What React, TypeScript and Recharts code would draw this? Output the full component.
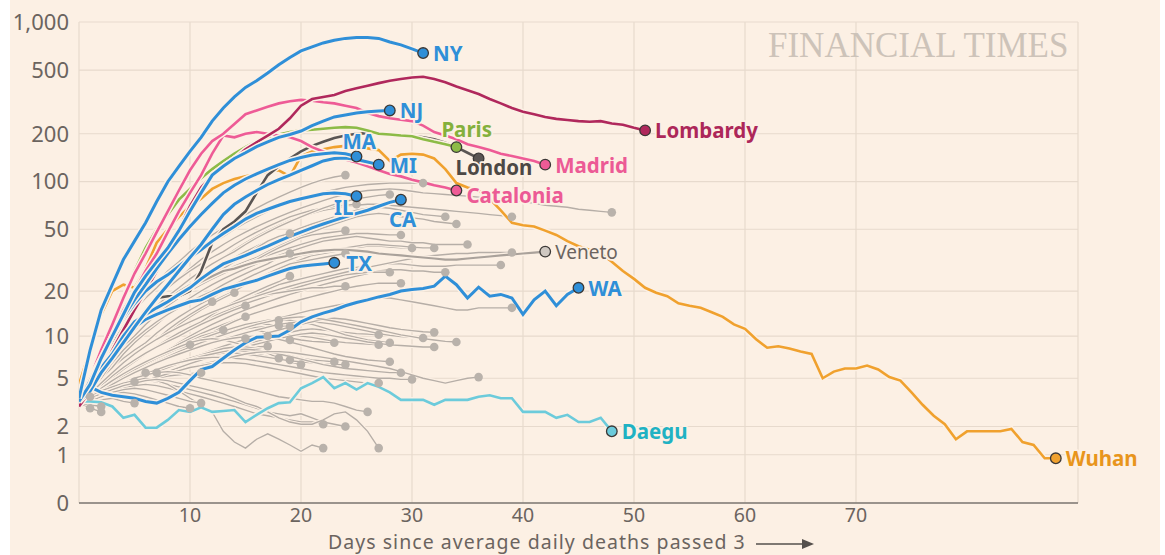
import React from 'react';
import { LineChart, Line, XAxis, YAxis, CartesianGrid } from 'recharts';

const BG = '#fcf0e4';
const GRID = '#e7dacd';
const AXIS_TXT = '#6b645f';
const FONT = '"Noto Sans", sans-serif';

const xTicks = [10, 20, 30, 40, 50, 60, 70];
const yTicks = [0, 1, 2, 5, 10, 20, 50, 100, 200, 500, 1000];

const ny = [3.5, 8, 15, 22, 32, 42, 55, 75, 100, 125, 155, 190, 240, 290, 340, 390, 430, 480, 540, 600, 660, 700, 740, 770, 790, 800, 800, 790, 750, 720, 680, 640];
const nj = [3.3, 4.5, 7, 10, 14, 19.6, 25, 31, 38, 49, 65, 85, 110, 125, 140, 152, 166, 178, 190, 198, 208, 225, 240, 255, 262, 270, 275, 278, 280];
const ma = [3.3, 4.8, 7, 10, 13.5, 17.5, 22, 28, 35, 43, 52, 62, 73, 85, 95, 104, 112, 120, 128, 136, 142, 147, 150, 152, 150, 144];
const mi = [3.3, 4, 5.5, 7, 9, 11.5, 14.5, 18, 22, 27, 33, 40, 50, 62, 72, 80, 88, 96, 103, 110, 118, 126, 135, 140, 141, 138, 133, 128];
const il = [3.3, 5, 7, 10, 13, 16.5, 20, 23, 25.5, 29, 33, 37, 42, 47, 52, 58, 63, 67, 71, 75, 78, 81, 84, 85, 84, 81];
const ca = [3.3, 4.5, 6, 7.5, 10, 12.5, 14, 15.5, 17, 19, 21, 24, 27, 30, 32, 34, 36.5, 39, 42, 45, 48, 51, 54, 57, 60, 63, 66, 70, 74, 77];
const tx = [3.3, 4.5, 6, 7.5, 9.5, 11.5, 13, 14, 15, 16, 17, 17.5, 19, 20.5, 21.5, 22.5, 23.5, 25, 26.5, 28, 29, 29.5, 30, 30.5];
const wa = [3.3, 4.3, 3.9, 3.7, 3.6, 3.5, 3.3, 3.2, 3.5, 3.9, 4.8, 5.8, 6.1, 7.0, 8.0, 9.0, 9.8, 9.9, 10, 11, 12.5, 13.5, 14.3, 15, 16, 16.8, 17.5, 18.3, 19, 20, 20.5, 20.8, 21.5, 25, 22, 18, 21.2, 18.5, 19, 18, 14, 17.5, 20, 16, 19, 21];
const lombardy = [3, 4, 5.5, 8, 11, 15, 20, 27, 36, 50, 70, 92, 110, 125, 140, 160, 177, 195, 215, 250, 300, 330, 340, 350, 370, 385, 400, 415, 430, 440, 450, 455, 440, 420, 395, 375, 355, 330, 310, 290, 275, 265, 255, 248, 244, 240, 238, 240, 232, 228, 218, 210];
const madrid = [3.5, 5, 8, 12, 18, 26, 35, 48, 65, 88, 118, 150, 180, 200, 230, 265, 280, 295, 310, 320, 326, 322, 315, 310, 300, 290, 270, 258, 250, 245, 240, 225, 205, 195, 185, 172, 165, 158, 150, 145, 140, 135, 128];
const catalonia = [3, 4.5, 7, 10, 15, 20, 27, 35, 48, 65, 85, 110, 150, 195, 190, 200, 205, 200, 195, 190, 180, 165, 155, 145, 138, 132, 125, 118, 112, 108, 103, 99, 95, 92, 88];
const paris = [3.5, 5, 8, 12, 18, 27, 38, 50, 62, 77, 90, 105, 120, 135, 150, 165, 180, 190, 198, 205, 210, 212, 215, 218, 220, 218, 210, 200, 198, 195, 193, 185, 178, 172, 165];
const london = [3, 4, 5.5, 7, 9, 12, 15, 18, 18.5, 18.5, 20, 27, 41, 50, 56, 65, 85, 110, 125, 140, 155, 168, 178, 188, 195, 200, 202, 200, 198, 196, 194, 190, 185, 176, 165, 152, 140];
const wuhan = [4.5, 8, 14, 20, 22, 21, 28, 41, 50, 60, 70, 78, 90, 98, 104, 108, 112, 116, 118, 108, 145, 155, 160, 165, 168, 165, 162, 158, 135, 148, 150, 148, 140, 120, 98, 92, 88, 78, 66, 55, 53, 52, 49, 46, 42, 39, 37, 35, 31, 27, 24, 21, 19.5, 18.5, 16.6, 16, 15.5, 14.5, 13.5, 12, 11.2, 9.5, 8.3, 8.5, 8.2, 7.8, 7.5, 5.0, 5.6, 5.9, 5.9, 6.2, 5.8, 5.1, 4.8, 3.9, 3.1, 2.5, 2.1, 1.5, 1.8, 1.8, 1.8, 1.8, 1.9, 1.4, 1.3, 0.9, 0.9];
const daegu = [3.3, 3.3, 3.25, 3.0, 2.4, 2.55, 1.95, 1.95, 2.3, 2.8, 2.7, 2.95, 2.7, 2.75, 2.8, 2.2, 2.55, 2.9, 3.2, 3.25, 4.2, 4.6, 5.1, 4.2, 4.6, 4.1, 4.6, 4.3, 3.9, 3.4, 3.4, 3.4, 3.1, 3.4, 3.4, 3.4, 3.6, 3.7, 3.5, 3.5, 2.7, 2.7, 2.7, 2.4, 2.55, 2.2, 2.2, 2.4, 1.8];
const veneto = [3.2, 4.5, 6, 7.5, 9, 11, 13, 15, 17, 19, 21, 23, 25, 27, 28, 29.5, 31, 32, 33, 34, 35, 36, 36.5, 37, 37, 36.5, 36, 35, 34.5, 34, 33.5, 33, 32.5, 32, 32, 32.5, 33, 33.5, 34, 34.5, 35, 35.5, 36];

const grayRegions: number[][] = [
  [3, 4.5, 6, 8, 10, 12.5, 15, 18, 21, 24, 28, 32, 36, 40, 44, 48, 52, 56, 60, 64, 68, 72, 76, 80, 83, 86, 88, 89, 90, 89, 87, 85, 84, 83, 82, 81, 80, 78, 77, 76, 75, 73, 71, 70, 69, 67, 66, 65, 64],
  [3, 4, 5.5, 7, 9, 11, 13, 15.5, 18, 21, 24, 27, 30, 33, 37, 41, 45, 49, 53, 57, 60, 63, 66, 68, 70, 71, 72, 72, 71, 70, 69, 68, 67, 66, 65, 64, 63, 62, 61, 60],
  [3, 4, 5, 6.5, 8, 10, 12, 14, 16, 18, 21, 24, 27, 30, 33, 36, 39, 42, 45, 48, 51, 54, 57, 60, 63, 66, 68, 69, 68, 66, 64, 62, 61, 60],
  [3.2, 4.5, 6, 7.5, 9, 11, 13, 15, 17, 19, 21, 23, 25, 27, 29, 31, 33, 36, 39, 42, 45, 48, 51, 54, 57, 60, 62, 63, 62, 60, 59, 58, 56, 55, 54],
  [3, 4, 5, 6.5, 8, 10, 12, 14, 16, 18, 20, 22, 24, 26, 28, 30, 32, 34, 36, 38, 40, 42, 44, 45, 46, 47, 47, 46.5, 46, 46],
  [3, 3.8, 4.6, 5.5, 6.5, 7.5, 8.5, 9.5, 11, 12.5, 14, 15.5, 17, 18.5, 20, 22, 24, 26, 28, 30, 32, 34, 35, 36, 37, 38, 39, 39, 38.5, 38, 38],
  [3.2, 4, 5, 6, 7, 8, 9, 10.5, 12, 13.5, 15, 16.5, 18, 20, 22, 24, 26, 28, 30, 32, 34, 35, 36, 37, 38, 39, 40, 40, 39.5, 39, 38.5, 38, 38],
  [3, 4, 5, 6, 7.5, 9, 10.5, 12, 14, 16, 18, 20, 22, 24, 26, 28, 30, 32, 34, 36, 38, 40, 42, 43, 44, 45, 44, 43, 42, 42, 41, 41, 40, 40, 40, 40],
  [3, 3.6, 4.2, 5, 5.8, 6.6, 7.5, 8.5, 9.5, 10.5, 11.5, 12.5, 13.5, 14.5, 16, 17.5, 19, 20.5, 22, 23, 24, 25, 26, 27, 28, 28.5, 29, 29.5, 30, 30, 29.5, 29, 29, 29, 29.5, 29.5, 29.5, 29.5, 29.5],
  [3, 3.5, 4, 4.5, 5, 5.5, 6, 7, 8, 9, 10, 11, 12, 13, 14, 15, 16, 17, 18, 19, 20, 21, 22, 23, 24, 25, 26, 27, 27.5, 27.5, 27, 27, 26.5, 26.5],
  [3, 3.6, 4.3, 5, 5.8, 6.6, 7.5, 8.5, 9.5, 10.5, 11.5, 12.5, 13.5, 14.5, 15.5, 16.5, 17.5, 18.5, 19.5, 20.5, 21.5, 22.5, 23.5, 24.5, 25.5, 26, 26.5, 26.5, 26.5],
  [3, 3.5, 4, 4.6, 5.2, 5.8, 6.5, 7.2, 8, 8.8, 9.6, 10.4, 11.2, 12, 12.8, 13.6, 14.4, 15.2, 16, 16.8, 17.6, 18.4, 19.2, 20, 20.8, 21.5, 22, 22.5, 22.5, 22.5],
  [3, 3.8, 4.6, 5.5, 6.5, 7.5, 8.5, 9.5, 10.5, 11.5, 12.5, 13.5, 14.5, 15.5, 16.5, 17.5, 18.5, 19, 19.5, 20, 20.5, 21, 21, 21.5, 21.5],
  [3, 3.5, 4, 4.5, 5, 5.5, 6, 6.6, 7.2, 7.8, 8.4, 9, 9.6, 10.2, 10.8, 11.4, 12, 12.6, 13.2, 13.8, 14.4, 15, 15.5, 16, 16.5, 17, 17.5, 18, 18, 17.5, 17, 16.5, 16, 15.5, 15, 15, 15.5, 15.5, 15.5, 15.5],
  [3, 4.2, 5.5, 7, 8.5, 10, 12, 14, 16, 18, 20, 22, 24, 26, 28, 30, 32, 35, 38, 41, 44, 46, 47, 48, 49],
  [3, 4.5, 6, 8, 10, 12, 14, 16, 18, 20, 22, 24, 26, 28, 31, 34, 38, 42, 45, 47],
  [3, 4, 5, 6.5, 8, 9.5, 11, 12.5, 14, 15.5, 17, 18.5, 20, 22, 24, 26, 28, 30, 33, 35],
  [3, 3.8, 4.6, 5.5, 6.5, 7.5, 8.5, 9.5, 11, 12.5, 14, 15.5, 17, 18.5, 20, 22, 24, 26, 28, 30, 31, 32, 33, 34, 35],
  [3, 4.5, 6, 8, 10, 12.5, 15, 18, 21, 24, 27, 30, 33, 36, 40, 44, 48, 52, 56, 60, 63, 66, 68, 70, 71, 72],
  [3, 4.5, 6.5, 9, 12, 15, 18, 21, 25, 29, 33, 37, 41, 45, 50, 55, 60, 65, 70, 74, 78, 82, 86, 89, 92, 94, 96, 97, 98, 98, 98, 98],
  [3, 4.5, 6.5, 9, 12, 15, 19, 23, 27, 31, 36, 41, 46, 51, 56, 62, 68, 74, 80, 86, 92, 98, 103, 107, 110],
  [3, 4.2, 5.5, 7, 9, 11, 13.5, 16, 18.5, 21, 24, 27, 30, 33, 36, 40, 44, 48, 52, 56, 60, 64, 68, 72, 75, 78, 80, 82, 83],
  [3, 3.6, 4.3, 5, 5.8, 6.6, 7.5, 8.5, 9.5, 10.5, 11.5, 12.5, 14, 15.5, 17, 18.5, 20, 21.5, 23, 25],
  [3, 3.8, 4.6, 5.5, 6.5, 7.5, 8.5, 9.5, 10.5, 12, 13.5, 15, 16.5, 18, 19.5],
  [3, 3.8, 4.6, 5.5, 6.5, 7.5, 8.5, 9.5, 11, 12.5, 14, 15.5, 17],
  [3, 3.7, 4.4, 5.2, 6, 6.8, 7.6, 8.4, 9.2, 10, 11, 12, 13, 14, 15, 16],
  [3, 3.5, 4, 4.6, 5.2, 5.8, 6.4, 7, 7.6, 8.2, 9, 9.8, 10.6, 11.6, 12.6, 13.5],
  [3, 3.4, 3.9, 4.4, 5, 5.6, 6.2, 6.8, 7.4, 8, 8.6, 9.2, 9.8, 10.4, 11, 11.6, 12.2, 12.6, 12.8],
  [3, 3.5, 4, 4.5, 5, 5.5, 6, 6.6, 7.2, 7.8, 8.4, 9, 9.6, 10.2, 10.8, 11.2, 11.5, 11.7, 11.8],
  [3, 3.6, 4.2, 4.8, 5.4, 6, 6.6, 7.2, 7.8, 8.4, 9.2, 10, 10.5, 11],
  [3, 3.4, 3.8, 4.2, 4.6, 5, 5.4, 5.8, 6.2, 6.6, 7, 7.5, 8, 8.5, 9, 9.6],
  [3, 3.5, 4, 4.5, 5, 5.5, 6, 6.5, 7, 7.5, 8, 8.5, 9, 9.3, 9.6, 9.8, 10, 10],
  [3, 3.4, 3.8, 4.2, 4.6, 5, 5.4, 5.8, 6.2, 6.6, 7, 7.3, 7.6, 7.9, 8.1, 8.3, 8.4, 8.5],
  [3, 3.5, 4, 4.5, 5, 5.6, 6.2, 6.8, 7.4, 8, 8.6, 9.2, 9.8, 10.4, 11, 11.6, 12, 12, 11.8, 11.6],
  [3, 3.4, 3.8, 4.2, 4.6, 5, 5.4, 5.8, 6.2, 6.6, 7, 7.4, 7.8, 8.2, 8.6, 9, 9.4, 9.6, 9.5, 9.4],
  [3, 3.5, 4, 4.5, 5, 5.5, 6, 6.5, 7, 7.5, 8, 8.5, 9, 9.5, 10, 10.5, 11, 10.5, 10, 9.7, 9.4, 9.2, 9.1, 9],
  [3, 3.4, 3.8, 4.2, 4.6, 5, 5.4, 5.8, 6.2, 6.6, 7, 7.4, 7.8, 8.2, 8.6, 9, 9.4, 9.8, 10.2, 10.6, 11, 11.2, 11, 10.8, 10.6, 10.4, 10.3, 10.2],
  [3, 3.3, 3.6, 4, 4.4, 4.8, 5.2, 5.6, 6, 6.4, 6.8, 7.2, 7.6, 8, 8.4, 8.8, 9.2, 9.6, 10, 10.2, 10, 9.8, 9.5, 9.2, 9, 8.9, 8.8, 8.7],
  [3, 3.6, 4.2, 4.8, 5.4, 6, 6.6, 7.2, 7.8, 8.4, 9, 9.6, 10.2, 10.8, 11.4, 12, 12.4, 12.8, 13, 12.8, 12.4, 12, 11.4, 10.8, 10.2, 9.8, 9.4, 9.2, 9],
  [3, 3.5, 4, 4.5, 5, 5.5, 6, 6.5, 7, 7.5, 8, 8.5, 9, 9.5, 10, 10.5, 11, 11.5, 12, 12.3, 12.5, 12.5, 12.3, 12, 11.6, 11.2, 10.8, 10.4, 10.1, 9.9, 9.8, 9.7],
  [3, 3.3, 3.6, 4, 4.4, 4.8, 5.2, 5.6, 6, 6.5, 7, 7.5, 8, 8.5, 9, 9.5, 10, 10.5, 11, 11.5, 12, 12.5, 13, 13.2, 13, 12.6, 12.2, 11.8, 11.4, 11.1, 10.9, 10.7, 10.6],
  [3, 3.3, 3.6, 3.9, 4.2, 4.5, 4.8, 5.2, 5.6, 6, 6.4, 6.8, 7.2, 7.6, 8, 8.4, 8.8, 9.2, 9.6, 10, 10.3, 10.5, 10.3, 10, 9.7, 9.4, 9.1, 8.9, 8.7, 8.6, 8.5, 8.4, 8.4],
  [3, 3.5, 4, 4.5, 5, 5.5, 6, 6.6, 7.2, 7.8, 8.4, 9, 9.6, 10.2, 10.8, 11.4, 12, 12.5, 13, 13.3, 13.5, 13.3, 13, 12.6, 12.2, 11.8, 11.4, 11, 10.6, 10.2, 9.9, 9.6, 9.4, 9.2, 9.1],
  [3, 3.5, 4, 4.6, 5.2, 5.8, 6.4, 7, 7.6, 8.2, 8.7],
  [3, 3.4, 3.8, 4.2, 4.6, 5, 5.4, 5.8, 6.2, 6.6, 7, 7.4, 7.6, 7.6, 7.5, 7.4, 7.2, 7.1, 7],
  [3, 3.3, 3.6, 4, 4.4, 4.8, 5.2, 5.6, 6, 6.4, 6.8, 7.2, 7.6, 8, 8, 7.8, 7.5, 7.2, 7, 6.8],
  [3, 3.6, 4.2, 4.8, 5.4, 6, 6.6, 7.2, 7.8, 8.4, 9, 9.4, 9.6, 9.4, 9, 8.6, 8.2, 7.6, 7, 6.6, 6.3],
  [3, 3.4, 3.8, 4.2, 4.6, 5, 5.4, 5.8, 6.2, 6.6, 7, 7.4, 7.8, 8.2, 8.4, 8.4, 8.2, 7.9, 7.6, 7.3, 7, 6.8, 6.7, 6.6],
  [3, 3.3, 3.6, 4, 4.4, 4.8, 5.2, 5.6, 6, 6.4, 6.8, 7.2, 7.4, 7.6, 7.6, 7.5, 7.3, 7.1, 6.9, 6.7, 6.6, 6.5, 6.4, 6.3, 6.3],
  [3, 3.5, 4, 4.5, 5, 5.5, 6, 6.5, 7, 7.5, 8, 8.5, 9, 9.4, 9.7, 9.9, 10, 9.8, 9.5, 9.1, 8.7, 8.3, 7.9, 7.5, 7.2, 7, 6.8, 6.7, 6.6],
  [3, 3.3, 3.6, 4, 4.4, 4.8, 5.2, 5.6, 6, 6.4, 6.8, 7.2, 7.5, 7.8, 8, 8.1, 8, 7.8, 7.5, 7.2, 6.9, 6.6, 6.3, 6.1, 5.9, 5.8, 5.7, 5.6, 5.5, 5.5],
  [3, 3.4, 3.8, 4.2, 4.6, 5, 5.4, 5.8, 6.2, 6.5, 6.8, 7, 7.1, 7.1, 7, 6.9, 6.7, 6.5, 6.3, 6.1, 5.9, 5.7, 5.5, 5.4, 5.3, 5.2, 5.1, 5, 5, 4.9, 4.9],
  [3, 3.3, 3.6, 3.9, 4.2, 4.5, 4.8, 5.1, 5.4, 5.7, 6, 6.3, 6.6, 6.9, 7.2, 7.5, 7.7, 7.8, 7.8, 7.7, 7.5, 7.3, 7.1, 6.9, 6.7, 6.5, 6.3, 6.1, 5.9, 5.6, 5.3, 5, 4.8, 4.6, 4.8, 5, 5.1],
  [3, 3.3, 3.6, 3.9, 4.2, 4.5, 4.8, 5, 5.2, 5.3, 5.4, 5.5],
  [3, 3.4, 3.8, 4.2, 4.6, 5, 5.5],
  [3, 3.3, 3.7, 4.1, 4.5, 4.9, 5.2, 5.5],
  [3, 3.3, 3.7, 4, 4.4, 4.7],
  [3, 3.3, 3.6, 3.9, 4.2, 4.5, 4.8, 5.1, 5.4, 5.7, 6, 6.2, 6.4, 6.5, 6.5, 6.4, 6.2, 6, 5.8, 5.6, 5.4, 5.2, 5, 4.9, 4.8, 4.7, 4.6, 4.6],
  [3, 3.4, 3.8, 4.2, 4.6, 5, 5.3, 5.5, 5.6, 5.5, 5.3, 5, 4.8, 4.6, 4.4, 4.2, 4, 3.8, 3.6, 3.5, 3.4, 3.3, 3.3, 3.2, 3, 2.8, 2.7],
  [3, 3.3, 3.6, 3.9, 4.2, 4.4, 4.5, 4.4, 4.2, 4, 3.8, 3.6, 3.4, 3.2, 3, 2.8, 2.6, 2.5, 2.4, 2.3, 2.2, 2.2, 2.1],
  [3, 3.4, 3.8, 4.2, 4.5, 4.7, 4.8, 4.7, 4.5, 4.3, 4.1, 3.9, 3.7, 3.5, 3.3, 3.1, 2.9, 2.7, 2.6, 2.5, 2.6, 2.4, 2.2, 2.1, 2],
  [3.3, 3.6, 4, 4.3, 4.6, 4.8, 5, 4.8, 4.5, 4, 3.5, 3.1, 2.7, 1.8, 1.4, 1.2, 1.5, 1.7, 1.5, 1.3, 1.1, 1.3, 1.2],
  [3.2, 3.5, 3.8, 4.1, 4.4, 4.6, 4.8, 4.9, 4.8, 4.6, 4.4, 4.2, 4, 3.8, 3.5, 3.2, 3, 2.7, 2.4, 2.2, 2.1, 2.1, 2.3, 2.6, 2.7, 2.3, 1.8, 1.2],
  [3.2, 3.4, 3.6, 3.8, 3.9, 3.8, 3.6, 3.4, 3.2, 3, 2.9],
  [3, 3.3, 3.6, 3.9, 4.1, 4.2, 4.1, 3.9, 3.7, 3.5, 3.3, 3.2],
  [3.2, 3.6],
  [3.2, 2.9],
  [3.3, 3.1, 3.0],
  [3.2, 2.9, 2.7],
  [3, 3.2, 3.4, 3.5, 3.3, 3.2],
  [3, 3.8, 4.6, 5.5, 6.5, 7.5, 8.5, 9.5, 10.5, 11.5, 12.5, 13.5, 14.5, 15.5, 16.5, 17.5, 18.5, 19.5, 20.5, 21.5, 22.5, 23.5, 24.5, 25.5, 26.5, 27.5, 28.5, 29.5, 30.5, 31.5, 32.5, 33.5, 34, 34.5, 35, 35, 35.5, 35.5, 35.5, 35.5],
];

type Hl = {
  name: string; values: number[]; color: string; labelColor: string; width: number;
  dx: number; dy: number; anchor: 'start' | 'end'; bold?: boolean; size?: number; dotFill?: string;
};

const BLUE = '#2f8fd8';
const highlights: Hl[] = [
  { name: 'Veneto', values: veneto, color: '#aaa29b', labelColor: '#6b645f', width: 2.2, dx: 10, dy: 0, anchor: 'start', bold: false, size: 19, dotFill: '#cfc8c1' },
  { name: 'Daegu', values: daegu, color: '#6ccbdb', labelColor: '#1fb2c3', width: 2.6, dx: 10, dy: 0, anchor: 'start' },
  { name: 'Wuhan', values: wuhan, color: '#f0a12e', labelColor: '#e8951c', width: 2.6, dx: 10, dy: 0, anchor: 'start' },
  { name: 'London', values: london, color: '#5a5553', labelColor: '#4d4845', width: 2.6, dx: -23, dy: 9, anchor: 'start' },
  { name: 'Paris', values: paris, color: '#8dbb47', labelColor: '#84b03c', width: 2.6, dx: -15, dy: -18, anchor: 'start' },
  { name: 'Catalonia', values: catalonia, color: '#ee5b96', labelColor: '#ec5a95', width: 2.6, dx: 10, dy: 4.5, anchor: 'start' },
  { name: 'Madrid', values: madrid, color: '#ee5b96', labelColor: '#ec5a95', width: 2.6, dx: 10, dy: 0, anchor: 'start' },
  { name: 'Lombardy', values: lombardy, color: '#b0285c', labelColor: '#ad2759', width: 2.6, dx: 10, dy: 0, anchor: 'start' },
  { name: 'WA', values: wa, color: BLUE, labelColor: BLUE, width: 3, dx: 10, dy: 0, anchor: 'start' },
  { name: 'TX', values: tx, color: BLUE, labelColor: BLUE, width: 3, dx: 12, dy: 0, anchor: 'start' },
  { name: 'CA', values: ca, color: BLUE, labelColor: BLUE, width: 3, dx: -12, dy: 19, anchor: 'start' },
  { name: 'IL', values: il, color: BLUE, labelColor: BLUE, width: 3, dx: -3, dy: 11, anchor: 'end' },
  { name: 'MI', values: mi, color: BLUE, labelColor: BLUE, width: 3, dx: 11, dy: 0, anchor: 'start' },
  { name: 'MA', values: ma, color: BLUE, labelColor: BLUE, width: 3, dx: -14, dy: -16, anchor: 'start' },
  { name: 'NJ', values: nj, color: BLUE, labelColor: BLUE, width: 3, dx: 10, dy: 0, anchor: 'start' },
  { name: 'NY', values: ny, color: BLUE, labelColor: BLUE, width: 3, dx: 10, dy: 0, anchor: 'start' },
];

const toData = (arr: number[]) => arr.map((v, i) => ({ day: i, v }));
const fmt = (v: number) => v.toLocaleString('en-US');

const W = 1150;
const H = 555;
const LEFT_W = 69;
const RIGHT_W = 82;
const TICK_FS = 22;

const RightTick = (props: any) => {
  const { x, y, payload } = props;
  const label = fmt(payload.value);
  const short = label.length <= 1;
  const ext = short ? 55 : 17;
  const isZero = payload.value === 0;
  return (
    <g>
      <line x1={x} x2={x + ext} y1={y} y2={y} stroke={isZero ? '#7d7772' : GRID} strokeWidth={isZero ? 1.6 : 1.2} />
      <text x={x + 80} y={y} textAnchor="end" dominantBaseline="central" fill={AXIS_TXT} fontSize={TICK_FS} fontFamily={FONT}>{label}</text>
    </g>
  );
};

const makeDot = (n: number, fill: string, stroke: string, r: number) => (p: any) => {
  if (p.index !== n - 1) return <g key={`e${p.index}`} />;
  return <circle key={`d${p.index}`} cx={p.cx} cy={p.cy} r={r} fill={fill} stroke={stroke} strokeWidth={stroke === 'none' ? 0 : 1.3} />;
};

const makeLabel = (h: Hl) => (p: any) => {
  if (p.index !== h.values.length - 1) return <g key={`l${p.index}`} />;
  return (
    <text key={`t${p.index}`} x={p.x + h.dx} y={p.y + h.dy} textAnchor={h.anchor} dominantBaseline="central"
      fill={h.labelColor} fontSize={h.size ?? 20.5} fontWeight={h.bold === false ? 400 : 700} fontFamily={FONT}
      stroke={BG} strokeWidth={3.5} strokeLinejoin="round" paintOrder="stroke">{h.name}</text>
  );
};

export default function App() {
  const lines: React.ReactNode[] = [];
  grayRegions.forEach((arr, i) => {
    const d = toData(arr);
    lines.push(<Line key={`gh${i}`} yAxisId="left" data={d} dataKey="v" type="linear" stroke={BG} strokeWidth={3.6} dot={false} activeDot={false} isAnimationActive={false} />);
    lines.push(<Line key={`g${i}`} yAxisId="left" data={d} dataKey="v" type="linear" stroke="#b6aea7" strokeWidth={1.35} dot={makeDot(arr.length, '#b9b2ab', 'none', 4.3)} activeDot={false} isAnimationActive={false} />);
  });
  highlights.forEach((h, i) => {
    const d = toData(h.values);
    lines.push(<Line key={`hh${i}`} yAxisId="left" data={d} dataKey="v" type="linear" stroke={BG} strokeWidth={h.width + 3} dot={false} activeDot={false} isAnimationActive={false} />);
    lines.push(<Line key={`h${i}`} yAxisId="left" data={d} dataKey="v" type="linear" stroke={h.color} strokeWidth={h.width} dot={false} activeDot={false} isAnimationActive={false} />);
  });
  highlights.forEach((h, i) => {
    const d = toData(h.values);
    lines.push(<Line key={`ol${i}`} yAxisId="left" data={d} dataKey="v" type="linear" stroke="none" strokeWidth={0}
      dot={false} label={makeLabel(h)} activeDot={false} isAnimationActive={false} />);
  });
  highlights.forEach((h, i) => {
    const d = toData(h.values);
    lines.push(<Line key={`od${i}`} yAxisId="left" data={d} dataKey="v" type="linear" stroke="none" strokeWidth={0}
      dot={makeDot(h.values.length, h.dotFill ?? h.color, '#3b3836', 5.3)} activeDot={false} isAnimationActive={false} />);
  });

  return (
    <div style={{ position: 'absolute', left: 10, top: 0, width: W, height: H, background: BG }}>
      <LineChart width={W} height={H} margin={{ top: 22, right: 0, bottom: 22, left: 0 }}>
        <CartesianGrid yAxisId="left" stroke={GRID} strokeWidth={1.2} />
        <XAxis dataKey="day" type="number" domain={[0, 90]} ticks={xTicks} allowDataOverflow height={30}
          tickLine={false} tickSize={5} tickMargin={0} axisLine={{ stroke: '#7d7772', strokeWidth: 1.6 }}
          tick={{ fontSize: 19.5, fill: AXIS_TXT, fontFamily: FONT }} />
        <YAxis yAxisId="left" orientation="left" scale="symlog" domain={[0, 1000]} ticks={yTicks} width={LEFT_W}
          tickLine={false} axisLine={false} tickSize={6} tickMargin={4} tickFormatter={fmt} interval={0}
          tick={{ fontSize: TICK_FS, fill: AXIS_TXT, fontFamily: FONT }} />
        <YAxis yAxisId="right" orientation="right" scale="symlog" domain={[0, 1000]} ticks={yTicks} width={RIGHT_W}
          tickLine={false} axisLine={false} tickSize={0} tickMargin={0} interval={0} tick={<RightTick />} />
        {lines}
      </LineChart>
      <svg width={W} height={H} style={{ position: 'absolute', left: 0, top: 0, pointerEvents: 'none' }}>
        <text x={758} y={57} fill="#cdc3b9" fontSize={35} fontFamily='"Liberation Serif", serif'>FINANCIAL TIMES</text>
        <text x={318} y={549.2} fill={AXIS_TXT} fontSize={19.5} letterSpacing={1.04} fontFamily={FONT}>Days since average daily deaths passed 3</text>
        <line x1={746} x2={794} y1={544} y2={544} stroke="#55504c" strokeWidth={1.5} />
        <polygon points="792,539 804,544 792,549" fill="#55504c" />
      </svg>
    </div>
  );
}
